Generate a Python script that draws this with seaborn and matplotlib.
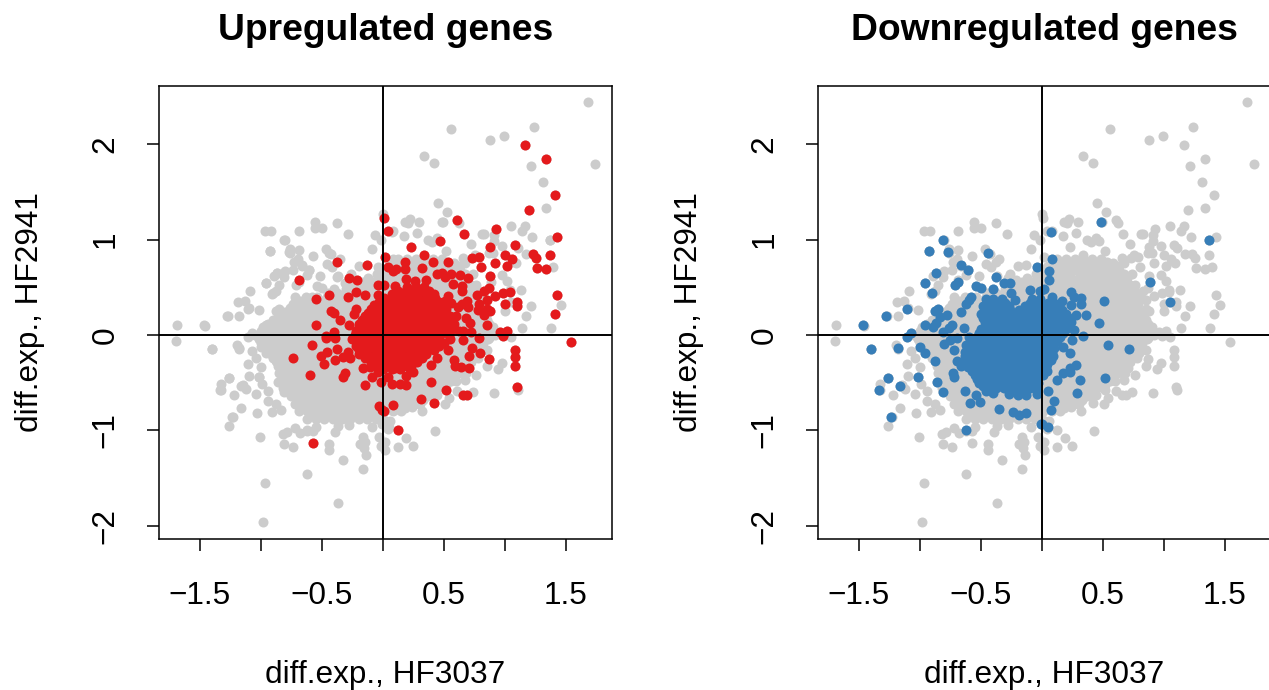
import matplotlib
matplotlib.use("Agg")
import matplotlib.pyplot as plt
import seaborn as sns
import pandas as pd

# Values (log-fold differences)
gray_sparse = [
(-1.69,.105),(-1.46,.095),(-1.27,.20),(-1.18,.20),(-1.19,.35),(-1.13,.36),(-1.09,.46),(-1.10,.28),(-1.02,.26),(-.96,.54),
(-.89,.62),(-.87,.65),(-.85,.52),(-.91,.43),(-.88,.46),(-.965,1.09),(-.915,1.09),(-.69,1.09),(-.80,1.00),(-.925,.88),
(-.76,.90),(-.76,.86),(-.69,.89),(-.56,1.18),(-.555,1.12),(-.50,1.12),(-.38,1.17),(-.29,1.06),(-.065,1.05),(-.09,.90),
(-.465,.90),(-.43,.85),(-.575,.83),(-.73,.77),(-.70,.80),(-.66,.72),(-.61,.68),(-.62,.63),(-.80,.67),(-.74,.68),
(-.81,.61),(-.46,.74),(-.42,.71),(-.35,.80),(-.52,.62),(-.37,.62),(-.20,.72),(-.26,.64),(0.0,1.27),(-.02,1.0),
(-1.70,-.06),(-1.40,-.15),(-1.20,-.10),(-1.18,-.15),(-1.07,-.17),(-1.04,-.24),(-1.11,-.30),(-1.0,-.34),(-1.02,-.44),(-1.10,-.43),
(-1.26,-.45),(-1.33,-.51),(-1.33,-.58),(-1.15,-.52),(-1.12,-.57),(-1.22,-.63),(-1.04,-.62),(-.99,-.51),(-.94,-.59),(-.94,-.69),
(-1.16,-.76),(-1.03,-.82),(-1.23,-.86),(-1.26,-.95),(-1.01,-1.07),(-.91,-.81),(-.84,-.79),(-.88,-.72),(-.72,-.97),(-.82,-1.04),
(-.79,-1.02),(-.68,-1.03),(-.62,-1.01),(-.55,-.96),(-.575,-1.01),(-.81,-1.14),(-.74,-1.17),(-.44,-1.14),(-.44,-1.20),(-.39,-1.02),
(-.37,-.95),(-.28,-.94),(-.09,-.96),(-.16,-1.07),(-.19,-1.14),(-.15,-1.12),(-.155,-1.18),(-.14,-1.26),(-.33,-1.31),(-.16,-1.40),
(-.62,-1.46),(-.97,-1.55),(-.37,-1.76),(-.98,-1.96),(-.03,-1.07),(-.02,-1.16),
(1.11,-.58),(.91,-.61),(.975,-.29),(.94,-.36),(.85,-.32),(.85,-.16),(.765,-.42),(.675,-.47),(.74,-.60),(.61,-.59),
(.54,-.66),(.51,-.72),(.44,-.63),(.43,-1.01),(.32,-.80),(.24,-.755),(.22,-.72),(.11,-.78),(.06,-.90),(.04,-.98),
(.19,-1.08),(.25,-1.16),(.12,-1.17),(.02,-1.12),(.02,-1.21),(.87,-.03),(1.05,-.02),
(1.68,2.44),(1.74,1.79),(.555,2.16),(.88,2.04),(.99,2.09),(1.24,2.18),(1.215,1.77),(1.31,1.60),(.34,1.88),(.42,1.80),
(1.34,1.33),(.45,1.38),(.525,1.29),(.49,1.18),(.62,1.17),(.295,1.18),(.18,1.18),(.22,1.22),(.205,1.17),(.28,1.07),
(.17,1.04),(.08,1.09),(.37,1.0),(.44,1.02),(.40,.97),(.52,.88),(.81,1.06),(.83,1.06),(1.05,1.14),(1.16,1.14),
(1.14,1.09),(1.22,1.03),(1.37,1.0),(.91,1.05),(.91,.99),(.72,.95),(.975,.93),(1.11,.91),(1.175,.85),(1.09,.76),
(1.39,.71),(1.13,.47),(.975,.63),(1.02,.57),(1.04,.47),(1.215,.30),(1.46,.31),(1.175,.20),(1.0,.25),(1.14,.07),
(1.375,.07),(.765,.52),(.74,.64),(.655,.81),(.67,.76),(.90,.86),(.87,.86),(.75,.84),
]

gray_core = {
 .80: [.12,.2,.27,.34,.41,.48],
 .72: [.05,.13,.2,.27,.34,.41,.48,.55,.62],
 .64: [-.05,.02,.09,.16,.23,.31,.38,.45,.52,.59,.67],
 .56: [-.16,-.08,-.02,.06,.13,.2,.27,.34,.41,.48,.55,.62,.7],
 .48: [-.3,-.23,-.16,-.09,-.02,.05,.12,.19,.26,.33,.4,.47,.54,.61,.68,.75],
 .40: [-.72,-.63,-.54,-.46,-.39,-.32,-.25,-.18,-.11,-.04,.03,.1,.17,.24,.31,.38,.45,.52,.59,.66,.73,.8],
 .32: [-.74,-.67,-.6,-.53,-.46,-.39,-.32,-.25,-.18,-.11,-.04,.03,.1,.17,.24,.31,.38,.45,.52,.59,.66,.72,.78],
 .24: [-.8,-.72,-.65,-.58,-.51,-.44,-.37,-.3,-.23,-.16,-.09,-.02,.05,.12,.19,.26,.33,.4,.47,.54,.61,.68,.75,.8],
 .16: [-.9,-.83,-.76,-.69,-.62,-.55,-.48,-.41,-.34,-.27,-.2,-.13,-.06,.01,.08,.15,.22,.29,.36,.43,.5,.57,.64,.71,.78,.85],
 .08: [-.98,-.91,-.84,-.77,-.7,-.63,-.56,-.49,-.42,-.35,-.28,-.21,-.14,-.07,0,.07,.14,.21,.28,.35,.42,.49,.56,.63,.7,.77,.84,.9],
 .00: [-1.05,-.98,-.91,-.84,-.77,-.7,-.63,-.56,-.49,-.42,-.35,-.28,-.21,-.14,-.07,.03,.1,.17,.24,.31,.38,.45,.52,.59,.66,.73,.8,.86,.92],
 -.08: [-1.0,-.93,-.86,-.79,-.72,-.65,-.58,-.51,-.44,-.37,-.3,-.23,-.16,-.09,-.02,.05,.12,.19,.26,.33,.4,.47,.54,.61,.68,.75,.82],
 -.16: [-.95,-.88,-.81,-.74,-.67,-.6,-.53,-.46,-.39,-.32,-.25,-.18,-.11,-.04,.03,.1,.17,.24,.31,.38,.45,.52,.59,.66,.73,.8],
 -.24: [-.9,-.83,-.76,-.69,-.62,-.55,-.48,-.41,-.34,-.27,-.2,-.13,-.06,.01,.08,.15,.22,.29,.36,.43,.5,.57,.64,.71,.78],
 -.32: [-.86,-.79,-.72,-.65,-.58,-.51,-.44,-.37,-.3,-.23,-.16,-.09,-.02,.05,.12,.19,.26,.33,.4,.47,.54,.61,.68],
 -.40: [-.85,-.78,-.71,-.64,-.57,-.5,-.43,-.36,-.29,-.22,-.15,-.08,-.01,.06,.13,.2,.27,.34,.41,.48,.55,.62,.68],
 -.48: [-.84,-.77,-.7,-.63,-.56,-.49,-.42,-.35,-.28,-.21,-.14,-.07,0,.07,.14,.21,.28,.35,.42,.49,.56,.6],
 -.56: [-.82,-.75,-.68,-.61,-.54,-.47,-.4,-.33,-.26,-.19,-.12,-.05,.02,.09,.16,.23,.3,.37,.44,.5],
 -.64: [-.75,-.68,-.61,-.54,-.47,-.4,-.33,-.26,-.19,-.12,-.05,.02,.09,.16,.23,.3,.37,.42],
 -.72: [-.72,-.65,-.58,-.51,-.44,-.37,-.3,-.23,-.16,-.09,-.02,.05,.12,.19,.26,.3],
 -.80: [-.69,-.62,-.55,-.48,-.41,-.34,-.27,-.2,-.13,-.06,.01,.08,.15],
 -.88: [-.62,-.55,-.48,-.41,-.34,-.27,-.2,-.13,-.06,0],
}

gray_core_b = {
 .76: [.08,.16,.23,.3,.37,.44,.51,.58],
 .68: [0,.07,.14,.21,.28,.35,.42,.49,.56,.63],
 .60: [-.12,-.04,.03,.1,.17,.24,.31,.38,.45,.52,.59,.66],
 .52: [-.24,-.17,-.1,-.03,.04,.11,.18,.25,.32,.39,.46,.53,.6,.67,.72],
 .44: [-.45,-.38,-.31,-.24,-.17,-.1,-.03,.04,.11,.18,.25,.32,.39,.46,.53,.6,.67,.74],
 .36: [-.68,-.6,-.5,-.43,-.36,-.29,-.22,-.15,-.08,-.01,.06,.13,.2,.27,.34,.41,.48,.55,.62,.69,.76],
 .28: [-.76,-.69,-.62,-.55,-.48,-.41,-.34,-.27,-.2,-.13,-.06,.01,.08,.15,.22,.29,.36,.43,.5,.57,.64,.71,.77],
 .20: [-.85,-.77,-.7,-.63,-.56,-.49,-.42,-.35,-.28,-.21,-.14,-.07,0,.07,.14,.21,.28,.35,.42,.49,.56,.63,.7,.77,.82],
 .12: [-.94,-.87,-.8,-.73,-.66,-.59,-.52,-.45,-.38,-.31,-.24,-.17,-.1,-.03,.04,.11,.18,.25,.32,.39,.46,.53,.6,.67,.74,.81,.87],
 .04: [-1.0,-.95,-.88,-.81,-.74,-.67,-.6,-.53,-.46,-.39,-.32,-.25,-.18,-.11,-.04,.03,.1,.17,.24,.31,.38,.45,.52,.59,.66,.73,.8,.87,.9],
 -.04: [-1.02,-.95,-.88,-.81,-.74,-.67,-.6,-.53,-.46,-.39,-.32,-.25,-.18,-.11,-.04,.03,.1,.17,.24,.31,.38,.45,.52,.59,.66,.73,.8,.86],
 -.12: [-.97,-.9,-.83,-.76,-.69,-.62,-.55,-.48,-.41,-.34,-.27,-.2,-.13,-.06,.01,.08,.15,.22,.29,.36,.43,.5,.57,.64,.71,.78],
 -.20: [-.92,-.85,-.78,-.71,-.64,-.57,-.5,-.43,-.36,-.29,-.22,-.15,-.08,-.01,.06,.13,.2,.27,.34,.41,.48,.55,.62,.69,.76],
 -.28: [-.87,-.8,-.73,-.66,-.59,-.52,-.45,-.38,-.31,-.24,-.17,-.1,-.03,.04,.11,.18,.25,.32,.39,.46,.53,.6,.67,.72],
 -.36: [-.82,-.75,-.68,-.61,-.54,-.47,-.4,-.33,-.26,-.19,-.12,-.05,.02,.09,.16,.23,.3,.37,.44,.51,.58,.65],
 -.44: [-.81,-.74,-.67,-.6,-.53,-.46,-.39,-.32,-.25,-.18,-.11,-.04,.03,.1,.17,.24,.31,.38,.45,.52,.58],
 -.52: [-.8,-.73,-.66,-.59,-.52,-.45,-.38,-.31,-.24,-.17,-.1,-.03,.04,.11,.18,.25,.32,.39,.46,.52],
 -.60: [-.78,-.71,-.64,-.57,-.5,-.43,-.36,-.29,-.22,-.15,-.08,-.01,.06,.13,.2,.27,.34,.4],
 -.68: [-.7,-.63,-.56,-.49,-.42,-.35,-.28,-.21,-.14,-.07,0,.07,.14,.21,.28,.33],
 -.76: [-.66,-.59,-.52,-.45,-.38,-.31,-.24,-.17,-.1,-.03,.04,.11,.18],
 -.84: [-.6,-.53,-.46,-.39,-.32,-.25,-.18,-.11,-.04],
}

red_sparse = [
(1.16,1.99),(1.34,1.84),(1.41,1.47),(1.20,1.31),(.61,1.21),(.01,1.23),(.04,1.09),(.66,1.06),(.93,1.11),(1.43,1.03),
(.47,.99),(.23,.92),(1.08,.94),(.88,.92),(.34,.84),(1.23,.85),(1.25,.81),(1.37,.84),(1.0,.84),(1.06,.80),
(.73,.81),(.79,.82),(.02,.82),(.41,.77),(.53,.77),(.18,.77),(.92,.75),(1.02,.72),(.80,.71),(.32,.70),
(.04,.71),(.18,.69),(.08,.67),(.11,.69),(1.26,.70),(1.335,.69),(.44,.64),(.48,.65),(.505,.61),(.56,.64),
(.63,.63),(.70,.60),(.88,.62),(.19,.59),(.26,.57),(.355,.58),(.10,.51),(.01,.52),(.57,.53),(.65,.51),
(.645,.46),(.87,.49),(.83,.46),(1.04,.45),(.98,.44),(.92,.41),(.77,.42),(.85,.37),(1.43,.42),(1.10,.35),
(1.10,.30),(1.0,.33),(.79,.33),(.69,.36),(.65,.33),(.70,.29),(.615,.29),(.78,.26),(.875,.25),(.83,.21),
(.85,.27),(1.41,.22),(.60,.20),(.68,.18),(.71,.13),(.85,.11),(.96,.03),(1.02,.04),(.72,.03),(.655,.04),
(.56,.34),(.505,.36),(.53,.41),
(-.375,.77),(-.135,.73),(-.69,.58),(-.28,.60),(-.21,.58),(-.04,.52),(-.22,.45),(-.44,.42),(-.55,.38),(-.29,.40),
(-.15,.42),(-.04,.42),(-.22,.27),(-.43,.25),(-.40,.23),(-.55,.11),(-.35,.16),(-.28,.11),(-.40,.03),(-.24,.22),(-.47,-.01),
(-.58,-.10),(-.74,-.245),(-.51,-.215),(-.46,-.18),(-.38,-.15),(-.48,-.30),(-.39,-.26),(-.33,-.235),(-.27,-.24),(-.29,-.175),
(-.60,-.42),(-.33,-.44),(-.31,-.40),(-.145,-.52),(-.09,-.44),(-.04,-.385),(-.02,-.49),(-.165,-.35),(-.11,-.34),(-.575,-1.135),
(-.03,-.745),(-.01,-.79),(-.47,-.03),(-.39,-.03),
(1.54,-.07),(1.085,-.155),(1.08,-.235),(1.08,-.325),(1.10,-.545),(.87,-.25),(.795,-.19),(.73,-.14),(.705,-.22),(.705,-.35),
(.64,-.33),(.58,-.26),(.59,-.325),(.52,-.58),(.655,-.63),(.69,-.63),(.39,-.49),(.42,-.71),(.31,-.675),(.08,-.73),
(.01,-.80),(.12,-1.0),(.185,-.43),(.185,-.525),(.14,-.51),(.07,-.51),(.39,-.31),(.44,-.245),(.35,-.19),(.245,-.385),
(.095,-.35),(.04,-.44),(.79,-.035),(.98,-.01),(.655,-.05),(.53,-.16),
]

red_core = {
 .50: [.2,.27,.34],
 .43: [.07,.14,.21,.28,.35,.42],
 .35: [-.03,.04,.11,.18,.25,.32,.39,.46],
 .27: [-.1,-.03,.04,.11,.18,.25,.32,.39,.46,.52],
 .20: [-.15,-.08,-.01,.06,.13,.2,.27,.34,.41,.48,.55],
 .12: [-.2,-.13,-.06,.01,.08,.15,.22,.29,.36,.43,.5,.58],
 .04: [-.22,-.15,-.08,-.01,.06,.13,.2,.27,.34,.41,.48,.55,.62],
 -.04: [-.25,-.18,-.11,-.04,.03,.1,.17,.24,.31,.38,.45,.55],
 -.12: [-.22,-.15,-.08,-.01,.06,.13,.2,.27,.34,.41,.46],
 -.20: [-.2,-.13,-.06,.01,.08,.15,.22,.29,.35],
 -.28: [-.1,-.03,.04,.11,.18,.25,.28],
 -.36: [0,.07,.14,.22],
}

red_core_b = {
 .46: [.12,.19,.26,.33,.38],
 .39: [.01,.08,.15,.22,.29,.36,.43],
 .31: [-.07,0,.07,.14,.21,.28,.35,.42,.49],
 .235: [-.12,-.05,.02,.09,.16,.23,.3,.37,.44,.5],
 .16: [-.17,-.1,-.03,.04,.11,.18,.25,.32,.39,.46,.53],
 .08: [-.2,-.13,-.06,.01,.08,.15,.22,.29,.36,.43,.5,.57],
 .00: [-.23,-.16,-.09,-.02,.05,.12,.19,.26,.33,.4,.47,.54],
 -.08: [-.21,-.14,-.07,0,.07,.14,.21,.28,.35,.42,.5],
 -.16: [-.2,-.13,-.06,.01,.08,.15,.22,.29,.36,.42],
 -.24: [-.15,-.08,-.01,.06,.13,.2,.27,.32],
 -.32: [-.05,.02,.09,.16,.23],
}

blue_sparse = [
(-.81,1.0),(-.93,.88),(-.77,.87),(-.44,.86),(-.66,.73),(-.61,.68),(-.87,.65),(-.04,.71),(-.38,.61),(-.96,.54),
(-.69,.56),(-.71,.52),(-.31,.54),(-.26,.54),(-.54,.51),(-.50,.49),(-.90,.44),(-.40,.48),(-.25,.44),(-.10,.47),
(-.02,.46),(-.22,.37),(-.58,.40),(-.60,.37),(-.62,.33),(-1.11,.27),(-1.28,.20),(-.88,.25),(-.85,.27),(-.66,.24),
(-.78,.21),(-.84,.19),(-.87,.13),(-.89,.08),(-.96,.11),(-1.47,.10),(-.74,.10),(-.76,.07),(-.64,.07),(-.81,.03),
(-1.07,.02),(-1.11,-.02),(-1.40,-.15),(-1.18,-.14),(-1.00,-.13),(-.96,-.19),(-.70,-.03),(-.75,-.05),(-.80,-.09),(-.72,-.16),
(-.88,-.27),(-.70,-.27),(-.66,-.32),(-.63,-.22),(-1.02,-.44),(-1.26,-.45),(-1.16,-.53),(-1.34,-.58),(-.86,-.49),(-.73,-.40),
(-.72,-.44),(-.81,-.60),(-.63,-.59),(-1.24,-.86),(-.59,-.71),(-.51,-.70),(-.35,-.78),(-.24,-.81),(-.19,-.84),(-.13,-.82),
(-.62,-1.0),(-.01,-.93),(-.27,-.62),(-.20,-.63),(-.13,-.63),(-.14,-.58),(-.04,-.62),(-.40,-.61),(-.46,-.59),(-.54,-.63),
(.48,1.18),(.07,1.08),(1.37,1.0),(.085,.80),(.06,.67),(.06,.58),(.885,.56),(1.05,.35),(.51,.36),(.02,.48),
(.24,.45),(.32,.39),(.16,.36),(.085,.40),(.265,.40),(.32,.32),(.24,.31),(.36,.21),(.28,.21),(.47,.13),
(.26,.05),(.34,-.01),(.25,-.05),(.54,-.10),(.71,-.15),(.17,-.13),(.23,-.19),(.28,-.31),(.23,-.35),(.23,-.39),
(.17,-.40),(.125,-.47),(.31,-.47),(.52,-.45),(.29,-.61),(.05,-.59),(.10,-.69),(.07,-.79),(.05,-.96),(0.0,-.93),(.04,-.38),
]

blue_core = {
 .38: [-.46,-.4,-.33,-.08,-.02],
 .30: [-.48,-.41,-.34,-.27,-.14,-.07,0,.07,.13],
 .22: [-.5,-.43,-.36,-.29,-.22,-.15,-.08,-.01,.06,.13,.2],
 .14: [-.47,-.4,-.33,-.26,-.19,-.12,-.05,.02,.09,.16,.24],
 .06: [-.5,-.43,-.36,-.29,-.22,-.15,-.08,-.01,.06,.13,.2],
 -.02: [-.6,-.53,-.46,-.39,-.32,-.25,-.18,-.11,-.04,.03,.1,.15],
 -.10: [-.62,-.55,-.48,-.41,-.34,-.27,-.2,-.13,-.06,.01,.08],
 -.18: [-.63,-.56,-.49,-.42,-.35,-.28,-.21,-.14,-.07,0,.08],
 -.26: [-.62,-.55,-.48,-.41,-.34,-.27,-.2,-.13,-.06,.01,.07],
 -.34: [-.61,-.54,-.47,-.4,-.33,-.26,-.19,-.12,-.05,.03],
 -.42: [-.55,-.48,-.41,-.34,-.27,-.2,-.13,-.06,.01],
 -.50: [-.52,-.45,-.38,-.31,-.24,-.17,-.1,-.03],
 -.56: [-.45,-.38,-.31,-.24,-.17,-.1,-.05],
}

blue_core_b = {
 .34: [-.45,-.38,-.3,-.1,-.03,.05,.1],
 .26: [-.47,-.4,-.33,-.26,-.19,-.12,-.05,.02,.09,.16],
 .18: [-.48,-.41,-.34,-.27,-.2,-.13,-.06,.01,.08,.15,.22],
 .10: [-.46,-.39,-.32,-.25,-.18,-.11,-.04,.03,.1,.17],
 .02: [-.52,-.45,-.38,-.31,-.24,-.17,-.1,-.03,.04,.11,.17],
 -.06: [-.58,-.51,-.44,-.37,-.3,-.23,-.16,-.09,-.02,.05,.12],
 -.14: [-.6,-.53,-.46,-.39,-.32,-.25,-.18,-.11,-.04,.03,.1],
 -.22: [-.59,-.52,-.45,-.38,-.31,-.24,-.17,-.1,-.03,.04,.09],
 -.30: [-.58,-.51,-.44,-.37,-.3,-.23,-.16,-.09,-.02,.04],
 -.38: [-.57,-.5,-.43,-.36,-.29,-.22,-.15,-.08,-.01],
 -.46: [-.53,-.46,-.39,-.32,-.25,-.18,-.11,-.04],
 -.53: [-.48,-.41,-.34,-.27,-.2,-.13,-.06],
}

x_ticks = [-1.5, -1.0, -0.5, 0.0, 0.5, 1.0, 1.5]
x_tick_labels = ["\u22121.5", "", "\u22120.5", "", "0.5", "", "1.5"]
y_ticks = [-2, -1, 0, 1, 2]
y_tick_labels = ["\u22122", "\u22121", "0", "1", "2"]
titles = ["Upregulated genes", "Downregulated genes"]
x_label = "diff.exp., HF3037"
y_label = "diff.exp., HF2941"


def frame(sparse, *cores):
    pts = list(sparse)
    for core in cores:
        pts += [(x, y) for y, xs in core.items() for x in xs]
    return pd.DataFrame(pts, columns=["x", "y"])


red = frame(red_sparse, red_core, red_core_b)
blue = frame(blue_sparse, blue_core, blue_core_b)
gray = pd.concat([frame(gray_sparse, gray_core, gray_core_b), red, blue], ignore_index=True)

sns.set_style("ticks")
plt.rcParams["font.family"] = ["Liberation Sans", "DejaVu Sans"]
plt.rcParams["text.color"] = "black"
plt.rcParams["axes.labelcolor"] = "black"

W, H = 1269, 690
fig = plt.figure(figsize=(W / 100, H / 100), dpi=100)
GRAY, RED, BLUE = "#CCCCCC", "#E41A1C", "#377EB8"

for left, title, fg, col in [(159, titles[0], red, RED), (818, titles[1], blue, BLUE)]:
    ax = fig.add_axes([left / W, (H - 539) / H, 453 / W, 453 / H])
    sns.scatterplot(data=gray, x="x", y="y", color=GRAY, s=52, linewidth=0, ax=ax, zorder=2)
    sns.scatterplot(data=fg, x="x", y="y", color=col, s=52, linewidth=0, ax=ax, zorder=3)
    ax.axhline(0, color="black", lw=1.4, zorder=4)
    ax.axvline(0, color="black", lw=1.4, zorder=4)
    ax.set_xlim(-1.836, 1.877)
    ax.set_ylim(-2.138, 2.61)
    ax.set_xticks(x_ticks, x_tick_labels)
    ax.set_yticks(y_ticks, y_tick_labels)
    ax.tick_params(axis="both", length=8.6, width=1.1, color="black", labelsize=22.7, labelcolor="black")
    ax.tick_params(axis="x", pad=22)
    ax.tick_params(axis="y", pad=19)
    for lab in ax.get_yticklabels():
        lab.set_rotation(90)
        lab.set_va("center")
    for s in ax.spines.values():
        s.set_visible(True)
        s.set_linewidth(1.1)
        s.set_color("black")
    ax.set_xlabel(x_label, fontsize=22.7, labelpad=35)
    ax.set_ylabel(y_label, fontsize=22.7, labelpad=33)
    ax.set_title(title, fontsize=26.8, fontweight="bold", pad=33, color="black")

fig.savefig("out.png", dpi=100)
